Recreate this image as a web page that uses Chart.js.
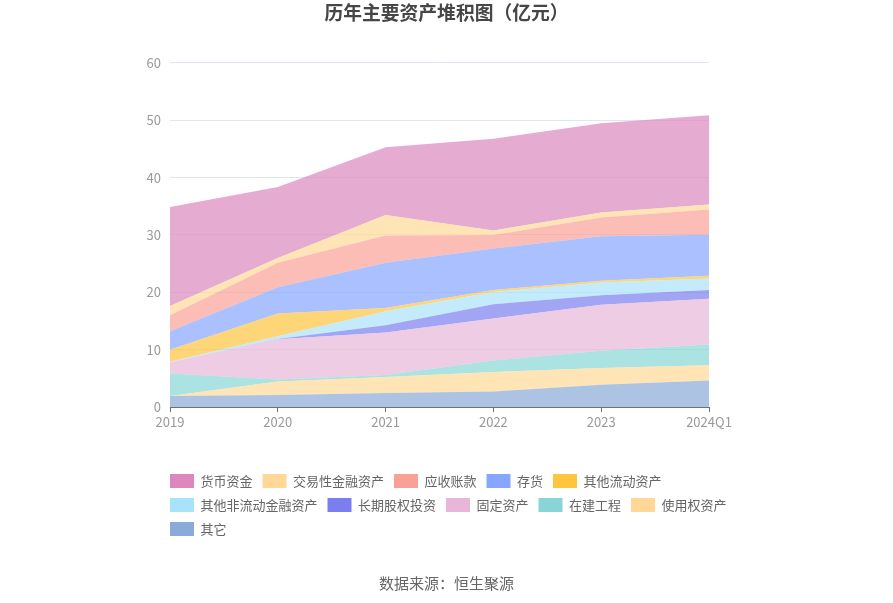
<!DOCTYPE html>
<html>
<head>
<meta charset="utf-8">
<script src="https://cdn.jsdelivr.net/npm/chart.js@4/dist/chart.umd.min.js"></script>
<style>
  html, body { margin: 0; padding: 0; background: #fff; }
  #wrap { width: 893px; height: 603px; }
</style>
</head>
<body>
<div id="wrap"><canvas id="chartArea"></canvas></div>
<script>
const years = ['2019', '2020', '2021', '2022', '2023', '2024Q1'];
const yTicks = [0, 10, 20, 30, 40, 50, 60];

// 亿元
const huobi = [17.3, 12.35, 11.8, 16.0, 15.6, 15.6];     // 货币资金
const jiaoyi = [1.6, 0.85, 3.6, 0.8, 0.85, 0.85];        // 交易性金融资产
const yingshou = [2.8, 4.25, 4.75, 2.35, 3.25, 4.4];     // 应收账款
const cunhuo = [3.2, 4.6, 7.9, 7.25, 7.8, 7.15];         // 存货
const qitaLiudong = [2.1, 3.95, 0.55, 0.35, 0.3, 0.5];   // 其他流动资产
const qitaFeiliudong = [0.1, 0.5, 2.45, 2.15, 2.2, 2.0]; // 其他非流动金融资产
const changqi = [0, 0.05, 1.25, 2.45, 1.65, 1.5];        // 长期股权投资
const guding = [1.95, 7.0, 7.4, 7.35, 8.05, 8.0];        // 固定资产
const zaijian = [3.95, 0.35, 0.35, 2.0, 3.0, 3.6];       // 在建工程
const shiyong = [0, 2.35, 2.8, 3.4, 2.9, 2.7];           // 使用权资产
const qita = [1.9, 2.1, 2.45, 2.7, 3.9, 4.6];            // 其它

const FONT = "'Noto Sans CJK SC', 'Noto Sans', sans-serif";

function hexA(hex, a) {
    const n = parseInt(hex.slice(1), 16);
    return 'rgba(' + (n >> 16) + ',' + ((n >> 8) & 255) + ',' + (n & 255) + ',' + a + ')';
}

// bottom of the stack first
const series = [
    ['其它', qita, '#8aaad9'],
    ['使用权资产', shiyong, '#ffd897'],
    ['在建工程', zaijian, '#87d5d6'],
    ['固定资产', guding, '#e7b6d8'],
    ['长期股权投资', changqi, '#7b7ef0'],
    ['其他非流动金融资产', qitaFeiliudong, '#a9e2fb'],
    ['其他流动资产', qitaLiudong, '#ffc53d'],
    ['存货', cunhuo, '#87a6ff'],
    ['应收账款', yingshou, '#f9a197'],
    ['交易性金融资产', jiaoyi, '#ffd897'],
    ['货币资金', huobi, '#dc87bd']
];

const datasets = series.map((s, i) => ({
    label: s[0],
    data: s[1],
    solid: s[2],
    backgroundColor: hexA(s[2], 0.7),
    borderColor: 'rgba(0,0,0,0)',
    borderWidth: 0,
    pointRadius: 0,
    tension: 0,
    fill: i === 0 ? 'origin' : '-1'
}));

// legend starts under the plot's left edge
const shiftLegend = {
    id: 'shiftLegend',
    afterLayout(chart) {
        if (chart.legend) chart.legend.left += 25;
    }
};

new Chart(document.getElementById('chartArea'), {
    type: 'line',
    data: { labels: years, datasets: datasets },
    plugins: [shiftLegend],
    options: {
        responsive: true,
        maintainAspectRatio: false,
        animation: false,
        layout: { padding: { left: 135, right: 135, top: 0, bottom: 0 } },
        scales: {
            x: {
                offset: false,
                grid: { drawOnChartArea: false, drawTicks: true, tickLength: 5, color: '#6e7079' },
                border: { display: true, color: '#6e7079' },
                ticks: { color: '#999', padding: 2, maxRotation: 0, font: { family: FONT, size: 13 } },
                afterFit: s => { s.paddingLeft = 0; s.paddingRight = 0; s.height = 57; }
            },
            y: {
                stacked: true,
                min: 0,
                max: 60,
                afterBuildTicks: s => { s.ticks = yTicks.map(v => ({ value: v })); },
                grid: { color: '#e0e6f1', drawTicks: false },
                border: { display: false },
                ticks: { color: '#999', padding: 9, font: { family: FONT, size: 13 } },
                afterFit: s => { s.width = 35; }
            },
            yr: {
                position: 'right',
                display: true,
                grid: { display: false },
                border: { display: false },
                ticks: { display: false },
                afterFit: s => { s.width = 49; }
            }
        },
        plugins: {
            title: {
                display: true,
                text: '历年主要资产堆积图（亿元）',
                color: '#464646',
                font: { family: FONT, size: 18.8, weight: 'bold' },
                padding: { top: 2, bottom: 38.4 }
            },
            subtitle: {
                display: true,
                position: 'bottom',
                text: '数据来源：恒生聚源',
                color: '#666',
                font: { family: FONT, size: 15, weight: 'normal' },
                padding: { top: 28, bottom: 11 }
            },
            legend: {
                position: 'bottom',
                align: 'start',
                reverse: true,
                labels: {
                    boxWidth: 24,
                    boxHeight: 14,
                    padding: 10,
                    color: '#666',
                    useBorderRadius: true,
                    borderRadius: 3,
                    font: { family: FONT, size: 13 },
                    generateLabels: chart => chart.data.datasets.map((d, i) => ({
                        text: d.label,
                        fillStyle: d.solid,
                        strokeStyle: d.solid,
                        lineWidth: 0,
                        hidden: false,
                        datasetIndex: i,
                        fontColor: '#666'
                    }))
                }
            },
            tooltip: { enabled: false }
        }
    }
});
</script>
</body>
</html>
